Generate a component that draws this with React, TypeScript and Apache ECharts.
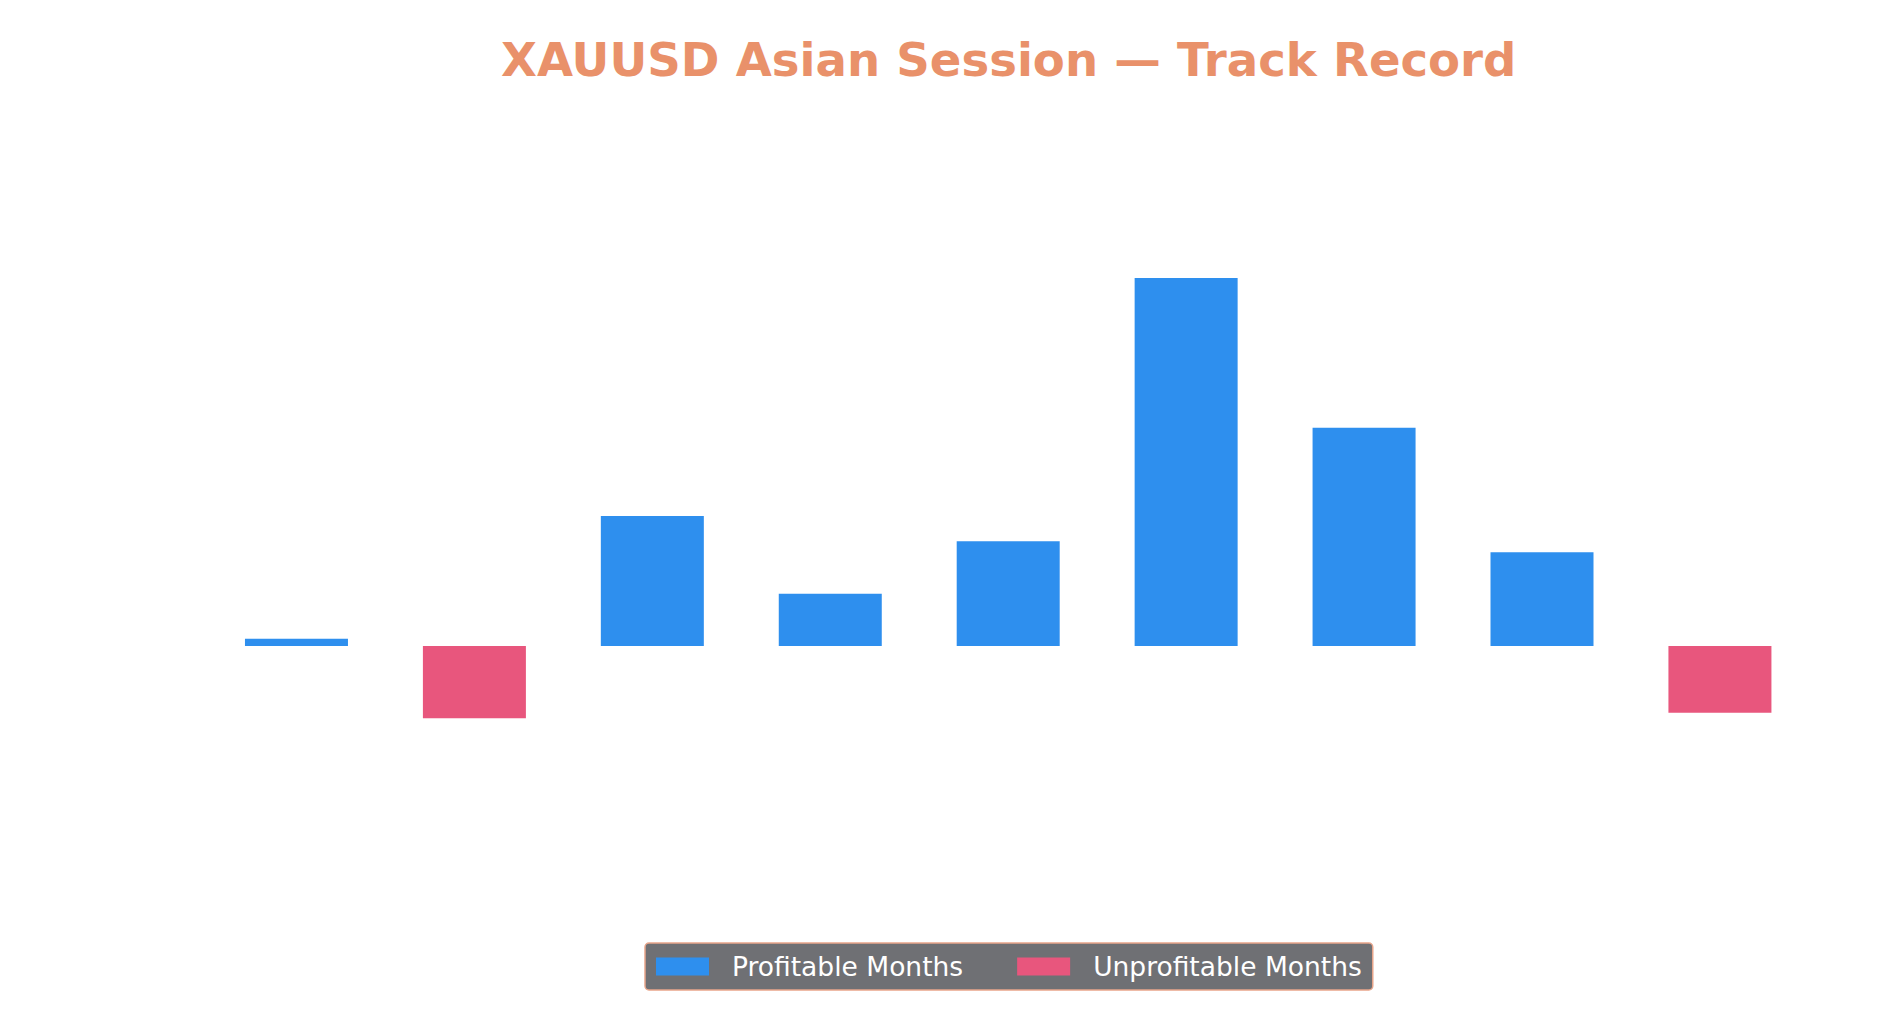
import React, { useEffect, useRef } from "react";
import * as echarts from "echarts";

const months = ["Month 1", "Month 2", "Month 3", "Month 4", "Month 5", "Month 6", "Month 7", "Month 8", "Month 9"];
const monthlyReturn = [0.2, -2.0, 3.6, 1.45, 2.9, 10.2, 6.05, 2.6, -1.85];
const profitable = monthlyReturn.map((v) => (v >= 0 ? v : null));
const unprofitable = monthlyReturn.map((v) => (v < 0 ? v : null));

const TITLE = "XAUUSD Asian Session — Track Record";
const LEGEND_PROFIT = "Profitable Months";
const LEGEND_LOSS = "Unprofitable Months";

const BLUE = "#2E8FEE";
const PINK = "#E8567D";
const SALMON = "#E9916A";

export default function App() {
  const ref = useRef<HTMLDivElement>(null);
  useEffect(() => {
    if (!ref.current) return;
    const chart = echarts.init(ref.current, undefined, { renderer: "svg" });
    chart.setOption({
      animation: false,
      backgroundColor: "#FFFFFF",
      title: {
        text: TITLE,
        left: 501,
        top: 36,
        padding: 0,
        textStyle: {
          fontFamily: "DejaVu Sans",
          fontSize: 46.6,
          fontWeight: "bold",
          color: SALMON,
        },
      },
      legend: {
        left: 645,
        top: 943,
        orient: "horizontal",
        itemWidth: 53,
        itemHeight: 18,
        itemGap: 54,
        padding: [10, 11, 10, 11],
        backgroundColor: "#6F7074",
        borderColor: "#E9A58A",
        borderWidth: 1.5,
        borderRadius: 4,
        icon: "rect",
        data: [LEGEND_PROFIT, LEGEND_LOSS],
        textStyle: {
          fontFamily: "DejaVu Sans",
          fontSize: 26.5,
          lineHeight: 27,
          color: "#FFFFFF",
          padding: [0, 0, 0, 18],
        },
      },
      grid: {
        left: 207.5,
        right: 78.1,
        top: 213,
        bottom: 239.7,
        containLabel: false,
      },
      xAxis: {
        type: "category",
        data: months,
        show: false,
      },
      yAxis: {
        type: "value",
        min: -4,
        max: 12,
        show: false,
        splitLine: { show: false },
      },
      series: [
        {
          name: LEGEND_PROFIT,
          type: "bar",
          data: profitable,
          barWidth: 103,
          barGap: "-100%",
          itemStyle: { color: BLUE },
        },
        {
          name: LEGEND_LOSS,
          type: "bar",
          data: unprofitable,
          barWidth: 103,
          barGap: "-100%",
          itemStyle: { color: PINK },
        },
      ],
    });
    return () => chart.dispose();
  }, []);
  return (
    <div
      ref={ref}
      style={{ position: "fixed", left: 0, top: 0, width: 1887, height: 1030, background: "#FFFFFF" }}
    />
  );
}
